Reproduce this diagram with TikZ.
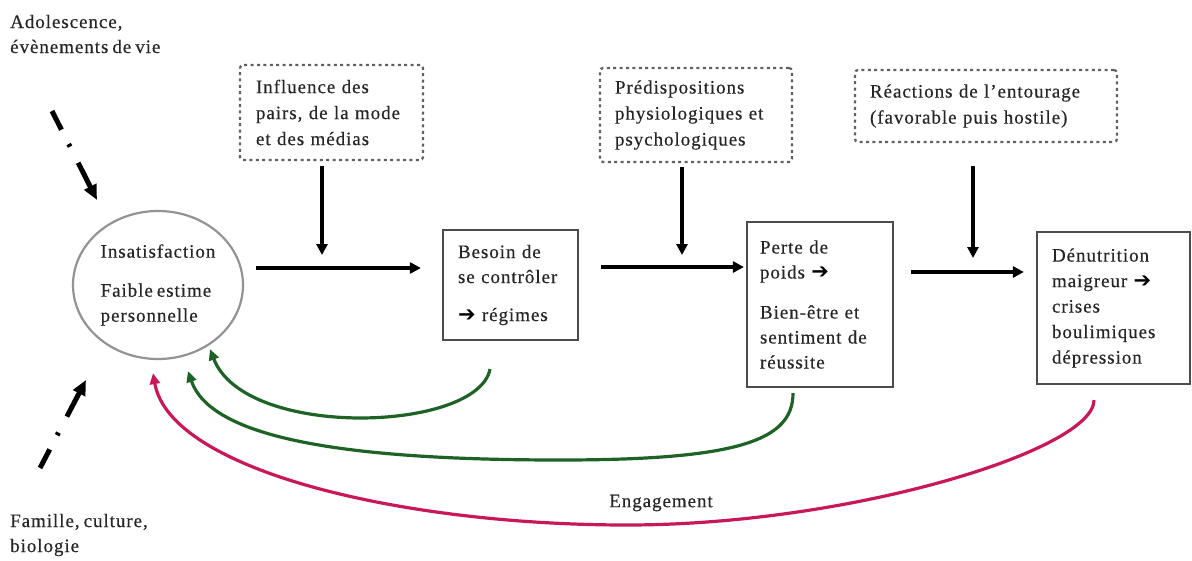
\documentclass[tikz,border=0pt]{standalone}
\usepackage{fontspec}
\setmainfont[LetterSpace=5,WordSpace=0.7,FakeBold=0.4]{Liberation Serif}
\newfontfamily\symfnt{DejaVu Sans}
\usetikzlibrary{arrows.meta,shapes.geometric,calc}
\definecolor{txt}{HTML}{262626}
\definecolor{grn}{HTML}{1D6326}
\definecolor{mag}{HTML}{C8185A}
\newcommand{\rarr}{{\color{black}\symfnt\fontsize{21}{21}\selectfont ➔}}
\begin{document}
\begin{tikzpicture}[x=1pt,y=-1pt,
  lbl/.style={font=\fontsize{19}{25}\selectfont, text=txt, align=left, inner sep=0pt},
  dotbox/.style={draw=gray!75!black, line width=2.2pt, dash pattern=on 3pt off 3.4pt,
    rounded corners=3pt, font=\fontsize{19}{26}\selectfont, text=txt, align=left, inner ysep=0pt},
  solidbox/.style={draw=black!70, line width=2.2pt, font=\fontsize{19}{25}\selectfont,
    text=txt, align=left, inner ysep=0pt},
  flow/.style={line width=3.6pt, -{Triangle[length=11pt,width=11pt]}},
  fback/.style={line width=3.2pt, -{Triangle[length=11pt,width=10pt]}},
  dd/.style={line width=5pt, dash pattern=on 21pt off 16pt on 3pt off 18pt on 80pt,
    -{Triangle[length=15pt,width=13pt]}}
]
\useasboundingbox (0,0) rectangle (1192,560);

% side labels
\node[lbl, anchor=west] (adol) at (10,34) {Adolescence,\\évènements de vie};
\node[lbl, anchor=west] (fam) at (10,535) {Famille, culture,\\biologie};

% central ellipse
\node[draw=gray!85, line width=2.2pt, ellipse, minimum width=170pt, minimum height=148pt,
  inner sep=0pt, font=\fontsize{19}{25}\selectfont, text=txt, align=left] (ell) at (158,285)
  {Insatisfaction\\[14pt]Faible estime\\personnelle};

% influence boxes
\node[dotbox, minimum width=183pt, minimum height=95pt, inner xsep=16pt, text width=151pt] (infl)
  at (331.5,112.5) {Influence des\\pairs, de la mode\\et des médias};
\node[dotbox, minimum width=192pt, minimum height=94pt, inner xsep=15pt, text width=162pt] (prep)
  at (696,115) {Prédispositions\\physiologiques et\\psychologiques};
\node[dotbox, minimum width=262pt, minimum height=72pt, inner xsep=15pt, text width=232pt] (react)
  at (986,106) {Réactions de l'entourage\\(favorable puis hostile)};

% stage boxes
\node[solidbox, minimum width=135pt, minimum height=110pt, inner xsep=15pt, text width=105pt] (besoin)
  at (510.5,285) {Besoin de\\se contrôler\\[13pt]\rarr\ régimes};
\node[solidbox, minimum width=146pt, minimum height=165pt, inner xsep=13pt, text width=120pt] (perte)
  at (820,304.5) {Perte de\\poids \rarr\\[15pt]Bien-être et\\sentiment de\\réussite};
\node[solidbox, minimum width=153pt, minimum height=152pt, inner xsep=15pt, text width=123pt,
  font=\fontsize{19}{25.5}\selectfont] (denut)
  at (1113.5,308) {Dénutrition\\maigreur \rarr\\crises\\boulimiques\\dépression};

% horizontal flow arrows
\draw[flow] ([xshift=12pt,yshift=17pt]ell.east) -- ([xshift=-21pt,yshift=17pt]besoin.west);
\draw[flow] ([xshift=22pt,yshift=18pt]besoin.east) -- ([xshift=-2pt,yshift=37.5pt]perte.west);
\draw[flow] ([xshift=17pt,yshift=32.5pt]perte.east) -- ([xshift=-12pt,yshift=36pt]denut.west);

% vertical influence arrows
\coordinate (v1) at (322,255);
\coordinate (v2) at (682,255);
\coordinate (v3) at (973,258);
\draw[flow] ([xshift=-9.5pt,yshift=-5pt]infl.south) -- (v1);
\draw[flow] ([xshift=-14pt,yshift=-4pt]prep.south) -- (v2);
\draw[flow] ([xshift=-13pt,yshift=-23pt]react.south) -- (v3);

% dash-dot arrows
\coordinate (adA) at (52,111);
\coordinate (adB) at (97,200);
\coordinate (faA) at (40,468);
\coordinate (faB) at (86,380);
\draw[dd] (adA) -- (adB);
\draw[dd] (faA) -- (faB);

% feedback curves
\draw[fback, grn] ([xshift=-20.5pt,yshift=-28pt]besoin.south)
  .. controls (478,432) and (245,440) .. ([xshift=52pt,yshift=11pt]ell.south);
\draw[fback, grn] ([xshift=-27pt,yshift=-5pt]perte.south)
  .. controls (793,440) and (740,460) .. (560,460)
  .. controls (330,460) and (210,435) .. ([xshift=30pt,yshift=-11pt]ell.south);
\draw[fback, mag] ([xshift=-19.5pt,yshift=-15pt]denut.south)
  .. controls (1094,450) and (850,525) .. (627,525)
  .. controls (400,525) and (170,470) .. ([xshift=-5pt,yshift=-13pt]ell.south);
\node[lbl] (eng) at (661,503) {Engagement};
\end{tikzpicture}
\end{document}
